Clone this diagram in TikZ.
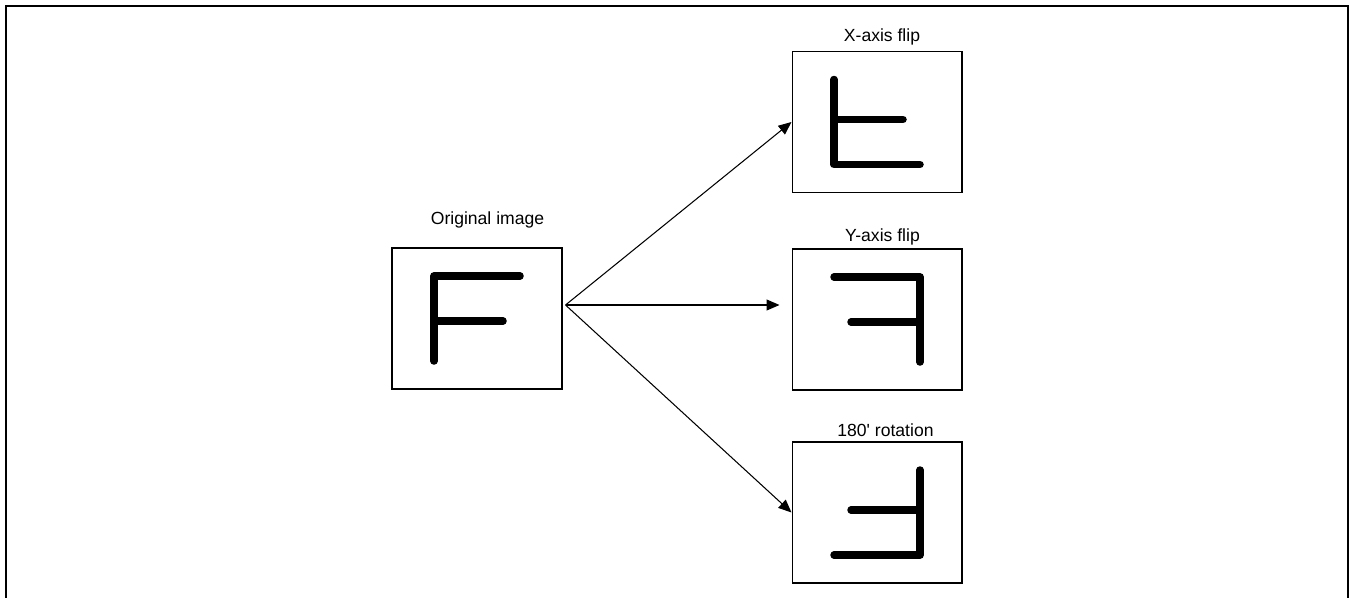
\documentclass[tikz,border=0pt]{standalone}
\usepackage{fontspec}
\setmainfont{Liberation Sans}
\usetikzlibrary{arrows.meta, positioning, calc}
\tikzset{
  imgbox/.style={rectangle, draw, line width=0.6pt, minimum width=3.4cm,
                 minimum height=2.82cm, inner sep=0pt},
  lbl/.style={anchor=base, inner sep=0pt, font=\fontsize{10}{12}\selectfont},
  glyphline/.style={line width=0.15cm, line cap=round, line join=round},
  arr/.style={-{Triangle[length=0.26cm, width=0.22cm]}, line width=0.6pt},
  fglyph/.pic={
    \draw[glyphline] (-43,42.5) -- (-43,-42.5) -- (43,-42.5)
                     (-43,2.5) -- (26,2.5);
  },
}

\begin{document}
\begin{tikzpicture}[x=0.02cm, y=-0.02cm]
  \useasboundingbox (0,0) rectangle (1355,598);
  \draw[line width=1.1pt] (6,600) -- (6,6) -- (1348,6) -- (1348,600);

  \node[imgbox] (orig)  at (477,318.5) {};
  \node[imgbox] (xflip) at (877,122) {};
  \node[imgbox] (yflip) at (877,319.5) {};
  \node[imgbox] (rot)   at (877,512.5) {};

  \node[lbl] (origlbl)  at (487.5,224) {Original image};
  \node[lbl] (xfliplbl) at (882,42)    {X-axis flip};
  \node[lbl] (yfliplbl) at (882.5,241) {Y-axis flip};
  \node[lbl] (rotlbl)   at (885.5,436) {180\textquotesingle{} rotation};

  % letters
  \pic at (orig.center) {fglyph};
  \pic[yscale=-1] at (xflip.center) {fglyph};
  \pic[xscale=-1] at (yflip.center) {fglyph};
  \pic[scale=-1] at (rot.center) {fglyph};

  \coordinate (fan)  at ($(orig.east)+(3,-13.5)$);
  \coordinate (ytip) at ($(yflip.west)+(-12,-14.5)$);

  \draw[arr] (fan) -- (xflip.west);
  \draw[arr] (fan) -- (ytip);
  \draw[arr] (fan) -- (rot.west);
\end{tikzpicture}
\end{document}
